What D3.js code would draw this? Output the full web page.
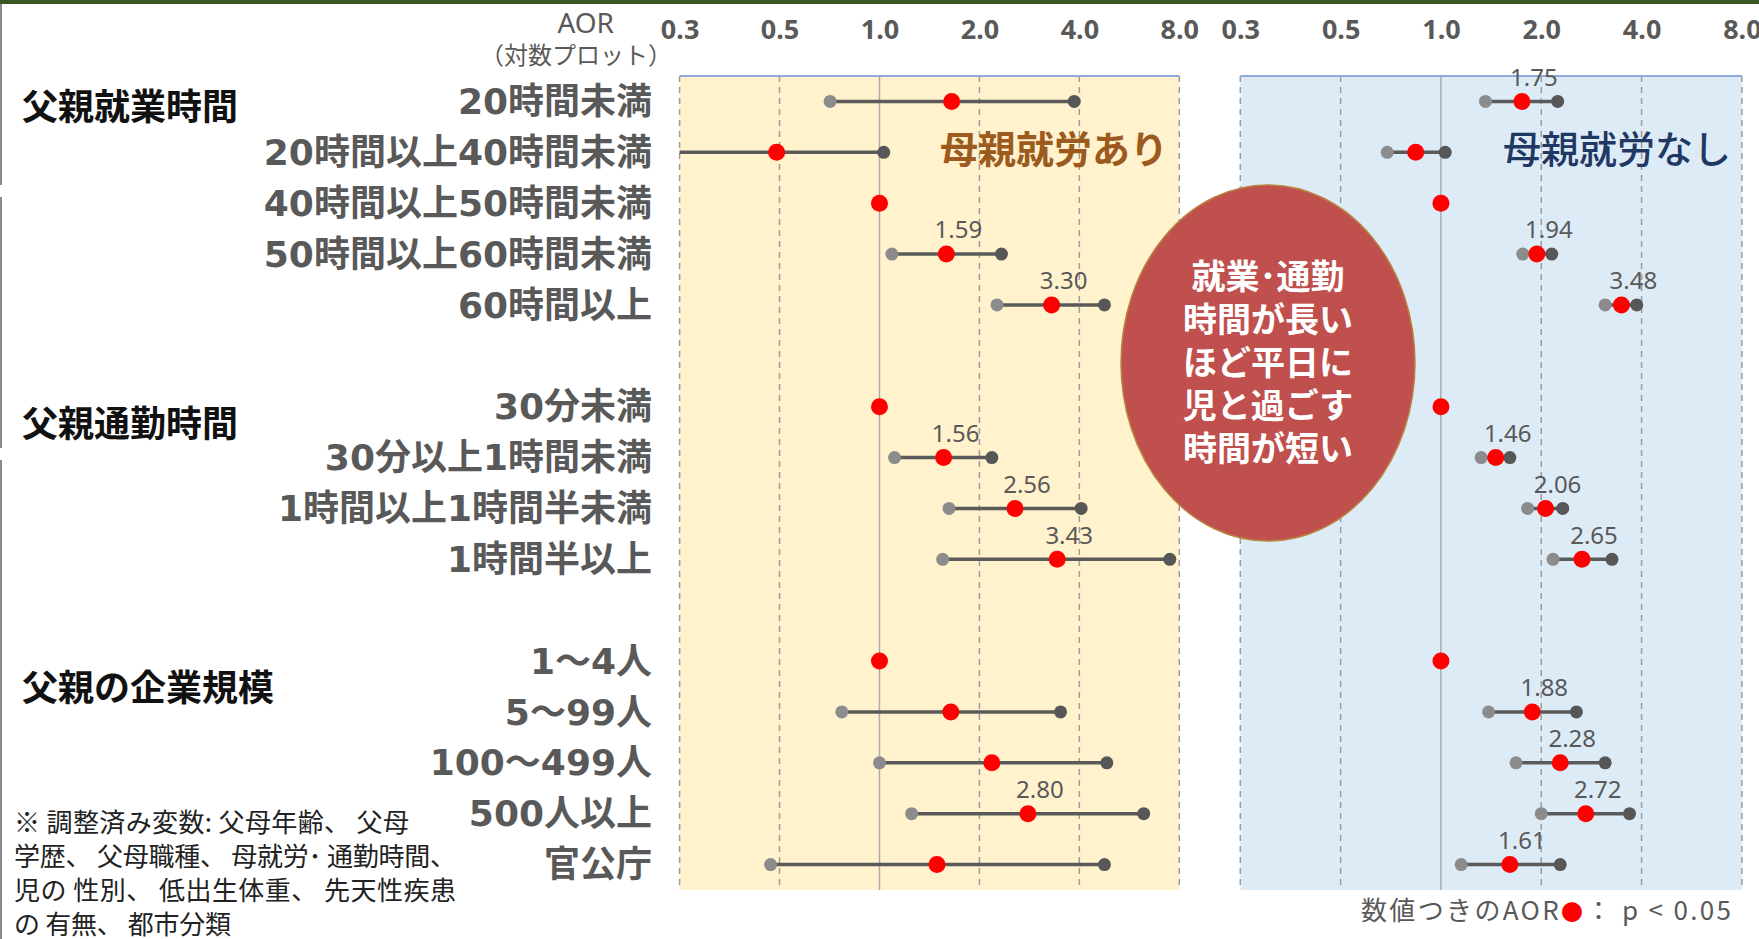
<!DOCTYPE html>
<html><head><meta charset="utf-8">
<script src="https://cdn.jsdelivr.net/npm/d3@7"></script>
<style>
html,body{margin:0;padding:0;background:#fff;overflow:hidden;}
svg{display:block;font-family:"Noto Sans CJK JP","Noto Sans",sans-serif;}
</style>
</head><body>
<svg id="c" width="1759" height="939"></svg>
<script>
// ---------- data ----------
const categories = ["20時間未満","20時間以上40時間未満","40時間以上50時間未満","50時間以上60時間未満","60時間以上","",
  "30分未満","30分以上1時間未満","1時間以上1時間半未満","1時間半以上","",
  "1～4人","5～99人","100～499人","500人以上","官公庁"];
const groupLabels = ["父親就業時間","父親通勤時間","父親の企業規模"];
const groupFirstRow = [0, 6, 11];

const tickValues = [0.25, 0.5, 1, 2, 4, 8];
const tickLabels = ["0.3","0.5","1.0","2.0","4.0","8.0"];

// 母親就労あり
const workAOR  = [1.65,0.49,1.00,1.59,3.30,null,1.00,1.56,2.56,3.43,null,1.00,1.64,2.18,2.80,1.49];
const workLow  = [0.71,0.20,null,1.09,2.26,null,null,1.11,1.62,1.55,null,null,0.77,1.00,1.25,0.47];
const workHigh = [3.86,1.03,null,2.33,4.76,null,null,2.18,4.05,7.49,null,null,3.51,4.84,6.25,4.76];
const workSig  = [0,0,0,1,1,0,0,1,1,1,0,0,0,0,1,0];

// 母親就労なし
const noworkAOR  = [1.75,0.84,1.00,1.94,3.48,null,1.00,1.46,2.06,2.65,null,1.00,1.88,2.28,2.72,1.61];
const noworkLow  = [1.36,0.69,null,1.76,3.11,null,null,1.32,1.82,2.17,null,null,1.39,1.68,2.00,1.15];
const noworkHigh = [2.24,1.03,null,2.15,3.87,null,null,1.61,2.32,3.26,null,null,2.55,3.11,3.68,2.28];
const noworkSig  = [1,0,0,1,1,0,0,1,1,1,0,0,1,1,1,1];

const noteLines = ["※ 調整済み変数: 父母年齢、 父母","学歴、 父母職種、 母就労･ 通勤時間、","児の 性別、 低出生体重、 先天性疾患","の 有無、 都市分類"];
const bubbleLines = ["就業･通勤","時間が長い","ほど平日に","児と過ごす","時間が短い"];

// ---------- layout ----------
const svg = d3.select("#c");
const W = 1759, H = 939;
const plotTop = 76, plotBottom = 890;
const y = d3.scaleBand().domain(d3.range(categories.length)).range([plotTop, plotBottom]).padding(0);
const yc = i => y(i) + y.bandwidth()/2;

const panels = [
  {id:"work", x0:679.6, x1:1179.3, fill:"#FFF2CC", aor:workAOR, lo:workLow, hi:workHigh, sig:workSig,
   title:"母親就労あり", titleColor:"#9C5A1E", titleWeight:700, titleX:1168},
  {id:"nowork", x0:1240.3, x1:1741.9, fill:"#DDEBF7", aor:noworkAOR, lo:noworkLow, hi:noworkHigh, sig:noworkSig,
   title:"母親就労なし", titleColor:"#1F3864", titleWeight:500, titleX:1731}
];

// top green band
svg.append("rect").attr("x",0).attr("y",0).attr("width",W).attr("height",4).attr("fill","#385723");
// left border decoration
[[4,185],[197,448],[460,939]].forEach(s=>{
  svg.append("line").attr("x1",1).attr("x2",1).attr("y1",s[0]).attr("y2",s[1])
    .attr("stroke","#8a8a8a").attr("stroke-width",2);
});

panels.forEach(p=>{
  const x = d3.scaleLog().base(2).domain([0.25, 8]).range([p.x0, p.x1]);
  const g = svg.append("g");
  g.append("rect").attr("x",p.x0).attr("y",plotTop).attr("width",p.x1-p.x0).attr("height",plotBottom-plotTop)
    .attr("fill",p.fill);
  g.selectAll("line.grid").data(tickValues).join("line")
    .attr("x1",d=>x(d)).attr("x2",d=>x(d)).attr("y1",plotTop).attr("y2",plotBottom)
    .attr("stroke",d=>d===1?"#ABABAB":"#9C9C9C")
    .attr("stroke-width",1.5)
    .attr("stroke-dasharray",d=>d===1?null:"6,5");
  g.append("line").attr("x1",p.x0).attr("x2",p.x1).attr("y1",plotTop).attr("y2",plotTop)
    .attr("stroke","#8EA9DB").attr("stroke-width",2);

  const axis = d3.axisTop(x).tickValues(tickValues).tickFormat((d,i)=>tickLabels[i]).tickSize(0);
  const ag = svg.append("g").attr("transform","translate(0,30)").call(axis);
  ag.select(".domain").remove();
  ag.selectAll("text").attr("y",0).attr("dy","0.35em")
    .attr("font-size",27).attr("font-weight",700).attr("fill","#595959")
    .attr("font-family","'Noto Sans',sans-serif");

  svg.append("text").attr("x",p.titleX).attr("y",150).attr("text-anchor","end").attr("dy","0.35em")
    .attr("font-size",38).attr("font-weight",p.titleWeight).attr("fill",p.titleColor).text(p.title);

  const clipId = "clip-"+p.id;
  svg.append("clipPath").attr("id",clipId).append("rect")
    .attr("x",p.x0).attr("y",plotTop).attr("width",p.x1-p.x0).attr("height",plotBottom-plotTop);
  const m = svg.append("g").attr("clip-path",`url(#${clipId})`);
  const rows = d3.range(categories.length).filter(i=>p.aor[i]!=null);
  const ci = rows.filter(i=>p.lo[i]!=null);
  m.selectAll("line.ci").data(ci).join("line")
    .attr("x1",i=>x(p.lo[i])).attr("x2",i=>x(p.hi[i])).attr("y1",yc).attr("y2",yc)
    .attr("stroke","#5A5A5A").attr("stroke-width",3.5);
  m.selectAll("circle.lo").data(ci).join("circle")
    .attr("cx",i=>x(p.lo[i])).attr("cy",yc).attr("r",6.5).attr("fill","#8C8C8C");
  m.selectAll("circle.hi").data(ci).join("circle")
    .attr("cx",i=>x(p.hi[i])).attr("cy",yc).attr("r",6.5).attr("fill","#575757");
  m.selectAll("circle.pt").data(rows).join("circle")
    .attr("cx",i=>x(p.aor[i])).attr("cy",yc).attr("r",8.5).attr("fill","#FF0000");
  svg.selectAll(null).data(rows.filter(i=>p.sig[i])).join("text")
    .attr("x",i=>x(p.aor[i])+12).attr("y",i=>yc(i)-24).attr("dy","0.35em")
    .attr("text-anchor","middle").attr("font-size",24).attr("fill","#595959")
    .attr("font-family","'Noto Sans',sans-serif")
    .text(i=>d3.format(".2f")(p.aor[i]));
});

// axis caption
svg.append("text").attr("x",614).attr("y",23).attr("dy","0.35em").attr("text-anchor","end")
  .attr("font-size",28).attr("fill","#595959").attr("font-family","'Noto Sans',sans-serif").text("AOR");
svg.append("text").attr("x",672).attr("y",56).attr("dy","0.35em").attr("text-anchor","end")
  .attr("font-size",24).attr("fill","#595959").text("（対数プロット）");

// category labels
svg.selectAll("text.cat").data(categories.map((c,i)=>({c,i})).filter(d=>d.c)).join("text")
  .attr("x",652).attr("y",d=>yc(d.i)).attr("dy","0.35em").attr("text-anchor","end")
  .attr("font-family","'DejaVu Sans','Noto Sans CJK JP',sans-serif")
  .attr("font-size",36).attr("font-weight",700).attr("fill","#595959").text(d=>d.c);

// group labels
const groupOffset = [6, 18, 27];
svg.selectAll("text.grp").data(groupLabels).join("text")
  .attr("x",22).attr("y",(d,i)=>yc(groupFirstRow[i])+groupOffset[i]).attr("dy","0.35em")
  .attr("font-size",36).attr("font-weight",700).attr("fill","#111").text(d=>d);

// note
const noteWidths = [395, 442, 442, 217];
svg.selectAll("text.note").data(noteLines).join("text")
  .attr("x",14).attr("y",(d,i)=>823+i*34).attr("dy","0.35em")
  .attr("textLength",(d,i)=>noteWidths[i]).attr("lengthAdjust","spacing")
  .attr("font-size",26).attr("font-weight",400).attr("fill","#222").text(d=>d);

// legend
const lg = svg.append("text").attr("x",1361).attr("y",911).attr("dy","0.35em")
  .attr("font-size",26).attr("fill","#595959")
  .attr("textLength",370).attr("lengthAdjust","spacing");
lg.append("tspan").text("数値つきのAOR");
lg.append("tspan").attr("fill","#FF0000").attr("font-size",22).text("●");
lg.append("tspan").text("： p < 0.05");

// bubble
const bx = 1268, by = 363;
svg.append("ellipse").attr("cx",bx).attr("cy",by).attr("rx",147).attr("ry",178)
  .attr("fill","#C0504D").attr("stroke","#B8843E").attr("stroke-width",1.5);
svg.selectAll("text.bub").data(bubbleLines).join("text")
  .attr("x",bx).attr("y",(d,i)=>by+(i-2)*43).attr("dy","0.35em").attr("text-anchor","middle")
  .attr("font-size",34).attr("font-weight",700).attr("fill","#fff").text(d=>d);
</script>
</body></html>
